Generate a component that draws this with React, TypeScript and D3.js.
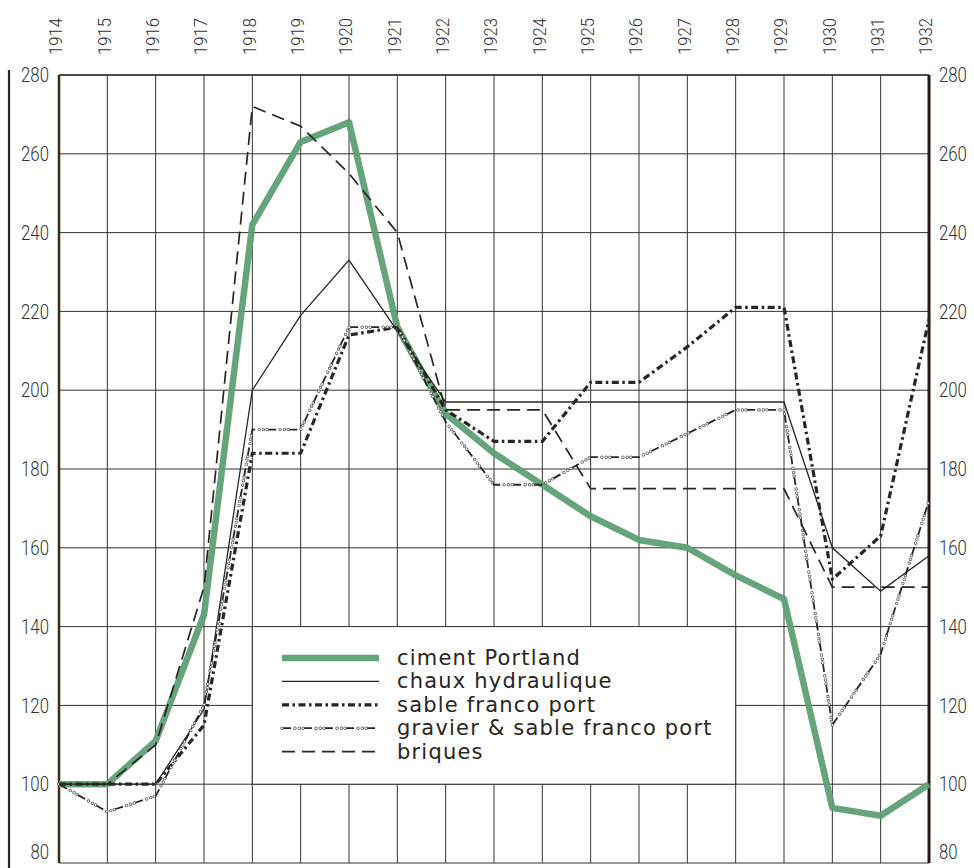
import React from "react";
import * as d3 from "d3";

const years = d3.range(1914, 1933);
const yTicks = [80, 100, 120, 140, 160, 180, 200, 220, 240, 260, 280];

const ciment = [100, 100, 111, 143, 242, 263, 268, 216, 194, 184, 176, 168, 162, 160, 153, 147, 94, 92, 100];
const chaux = [100, 100, 100, 119, 200, 219, 233, 215, 197, 197, 197, 197, 197, 197, 197, 197, 160, 149, 158];
const sable = [100, 100, 100, 115, 184, 184, 214, 216, 195, 187, 187, 202, 202, 211, 221, 221, 152, 163, 218];
const gravier = [100, 93, 97, 120, 190, 190, 216, 216, 192, 176, 176, 183, 183, 189, 195, 195, 115, 133, 172];
const briques = [100, 100, 110, 150, 272, 267, 255, 240, 195, 195, 195, 175, 175, 175, 175, 175, 150, 150, 150];

const legendLabels = [
  "ciment Portland",
  "chaux hydraulique",
  "sable franco port",
  "gravier & sable franco port",
  "briques",
];

const W = 974;
const H = 868;
const GREEN = "#5e9f72";
const INK = "#2a2622";
const AXIS_FONT = "'Roboto', 'DejaVu Sans Condensed', sans-serif";
const LEG_FONT = "'DejaVu Sans', 'Noto Sans', sans-serif";

function Styled({ d, kind }: { d: string; kind: number }) {
  if (kind === 0) {
    return <path d={d} fill="none" stroke={GREEN} strokeWidth={6.5} strokeLinejoin="round" strokeOpacity={0.95} />;
  }
  if (kind === 1) {
    return <path d={d} fill="none" stroke={INK} strokeWidth={1.3} strokeLinejoin="miter" />;
  }
  if (kind === 2) {
    return (
      <path d={d} fill="none" stroke={INK} strokeWidth={3.2} strokeDasharray="7 3.5 2.5 3.5" strokeLinejoin="round" />
    );
  }
  if (kind === 3) {
    return (
      <g>
        <path d={d} fill="none" stroke={INK} strokeWidth={1.8} strokeDasharray="9 12" />
        <path d={d} fill="none" stroke="#555" strokeWidth={3.4} strokeLinecap="round" strokeDasharray="0 13 0 4.3 0 3.7" />
        <path d={d} fill="none" stroke="#ffffff" strokeWidth={1.8} strokeLinecap="round" strokeDasharray="0 13 0 4.3 0 3.7" />
      </g>
    );
  }
  return <path d={d} fill="none" stroke={INK} strokeWidth={1.7} strokeDasharray="13 7" />;
}

export default function App() {
  const x = d3.scaleLinear().domain([1914, 1932]).range([59, 929]);
  const y = d3.scaleLinear().domain([80, 280]).range([863, 75]);
  const series = [ciment, chaux, sable, gravier, briques];
  const line = d3
    .line<number>()
    .x((_, i) => x(years[i]))
    .y((v) => y(v));

  const legX0 = 282;
  const legX1 = 379;
  const legY0 = 658;
  const legDy = 23.4;

  const yLabelY = (t: number) => (t === 80 ? y(t) - 11 : y(t));

  return (
    <svg
      width={W}
      height={H}
      viewBox={`0 0 ${W} ${H}`}
      style={{ position: "absolute", left: 0, top: 0, background: "#fff" }}
    >
      <rect x={0} y={0} width={W} height={H} fill="#fff" />
      {/* outer left rule */}
      <line x1={9} x2={9} y1={70} y2={H} stroke={INK} strokeWidth={2.2} />

      {/* grid */}
      {years.map((yr) => (
        <line key={"v" + yr} x1={x(yr)} x2={x(yr)} y1={y(280)} y2={y(80)} stroke="#333" strokeWidth={1} />
      ))}
      {yTicks.map((t) => (
        <line key={"h" + t} x1={x(1914)} x2={x(1932)} y1={y(t)} y2={y(t)} stroke="#333" strokeWidth={1} />
      ))}
      <line x1={x(1914)} x2={x(1914)} y1={y(280)} y2={y(80)} stroke="#3a2e12" strokeWidth={2.5} />
      <line x1={x(1932)} x2={x(1932)} y1={y(280)} y2={y(80)} stroke="#2a1a14" strokeWidth={3} />
      <line x1={x(1914)} x2={x(1932)} y1={y(280)} y2={y(280)} stroke="#333" strokeWidth={1.4} />

      {/* year labels */}
      {years.map((yr) => (
        <text
          key={"t" + yr}
          transform={`translate(${x(yr) - 3},55) rotate(-90) scale(0.9,1)`}
          textAnchor="start"
          dominantBaseline="central"
          fontFamily={AXIS_FONT}
          fontWeight={300}
          fontSize={18.5}
          fill="#333"
        >
          {yr}
        </text>
      ))}

      {/* y labels */}
      {yTicks.map((t) => (
        <g key={"yl" + t}>
          <text
            transform={`translate(49,${yLabelY(t)}) scale(0.8,1)`}
            textAnchor="end"
            dominantBaseline="central"
            fontFamily={AXIS_FONT}
            fontWeight={300}
            fontSize={21}
            fill="#333"
          >
            {t}
          </text>
          <text
            transform={`translate(939,${yLabelY(t)}) scale(0.8,1)`}
            textAnchor="start"
            dominantBaseline="central"
            fontFamily={AXIS_FONT}
            fontWeight={300}
            fontSize={21}
            fill="#333"
          >
            {t}
          </text>
        </g>
      ))}

      {/* series */}
      {series.map((s, k) => (
        <Styled key={"s" + k} d={line(s) || ""} kind={k} />
      ))}

      {/* legend: a cleared block of grid cells */}
      <rect
        x={x(1918)}
        y={y(140)}
        width={x(1928) - x(1918)}
        height={y(100) - y(140)}
        fill="#fff"
        stroke="#333"
        strokeWidth={1}
      />
      {legendLabels.map((lab, i) => {
        const yy = legY0 + i * legDy;
        const d = `M${legX0},${yy}L${legX1},${yy}`;
        return (
          <g key={"lg" + i}>
            <Styled d={d} kind={i} />
            <text
              x={397}
              y={yy + 7}
              fontFamily={LEG_FONT}
              fontSize={21}
              letterSpacing={1.2}
              fill={INK}
            >
              {lab}
            </text>
          </g>
        );
      })}
    </svg>
  );
}
